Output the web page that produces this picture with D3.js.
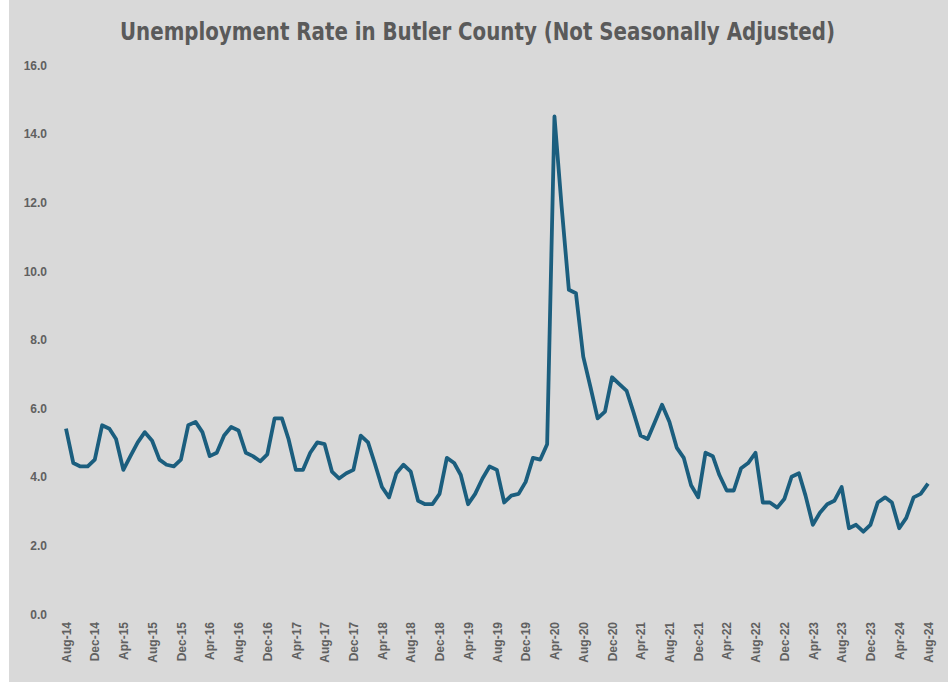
<!DOCTYPE html>
<html lang="en">
<head>
    <meta charset="UTF-8">
    <title>Unemployment Rate in Butler County</title>
    <script src="https://d3js.org/d3.v7.min.js"></script>
    <style>
        body {
            margin: 0;
            padding: 0;
            background: #ffffff;
        }
        .tick text {
            font-family: "Liberation Sans", Arial, sans-serif;
            font-size: 12px;
            font-weight: bold;
            fill: #606060;
        }
    </style>
</head>
<body>
    <svg width="952" height="682"></svg>

    <script>
        // monthly rate, Aug-14 .. Aug-24
        const startMonth = "Aug-14";
        const rates = [
            5.4, 4.4, 4.3, 4.3, 4.5, 5.5, 5.4, 5.1, 4.2, 4.6, 5.0, 5.3,
            5.05, 4.5, 4.35, 4.3, 4.5, 5.5, 5.6, 5.3, 4.6, 4.7, 5.2, 5.45,
            5.35, 4.7, 4.6, 4.45, 4.65, 5.7, 5.7, 5.1, 4.2, 4.2, 4.7, 5.0,
            4.95, 4.15, 3.95, 4.1, 4.2, 5.2, 5.0, 4.4, 3.7, 3.4, 4.1, 4.35,
            4.15, 3.3, 3.2, 3.2, 3.5, 4.55, 4.4, 4.05, 3.2, 3.5, 3.95, 4.3,
            4.2, 3.25, 3.45, 3.5, 3.85, 4.55, 4.5, 4.95, 14.5, 11.9, 9.45, 9.35,
            7.5, 6.6, 5.7, 5.9, 6.9, 6.7, 6.5, 5.9, 5.2, 5.1, 5.6, 6.1,
            5.6, 4.85, 4.55, 3.75, 3.4, 4.7, 4.6, 4.05, 3.6, 3.6, 4.25, 4.4,
            4.7, 3.25, 3.25, 3.1, 3.35, 4.0, 4.1, 3.45, 2.6, 2.95, 3.2, 3.3,
            3.7, 2.5, 2.6, 2.4, 2.6, 3.25, 3.4, 3.25, 2.5, 2.8, 3.4, 3.5,
            3.8
        ];
        const xTickLabels = [
            "Aug-14", "Dec-14", "Apr-15", "Aug-15", "Dec-15", "Apr-16", "Aug-16", "Dec-16",
            "Apr-17", "Aug-17", "Dec-17", "Apr-18", "Aug-18", "Dec-18", "Apr-19", "Aug-19",
            "Dec-19", "Apr-20", "Aug-20", "Dec-20", "Apr-21", "Aug-21", "Dec-21", "Apr-22",
            "Aug-22", "Dec-22", "Apr-23", "Aug-23", "Dec-23", "Apr-24", "Aug-24"
        ];
        const yTicks = [0, 2, 4, 6, 8, 10, 12, 14, 16];
        const title = "Unemployment Rate in Butler County (Not Seasonally Adjusted)";

        const parseMonth = d3.utcParse("%b-%y");
        const start = parseMonth(startMonth);
        const data = rates.map((v, i) => ({ date: d3.utcMonth.offset(start, i), value: v }));

        const svg = d3.select("svg");

        svg.append("rect")
            .attr("x", 9)
            .attr("y", 0)
            .attr("width", 939)
            .attr("height", 682)
            .attr("fill", "#d9d9d9");

        const xScale = d3.scaleUtc()
            .domain([start, data[data.length - 1].date])
            .range([66, 928]);

        const yScale = d3.scaleLinear()
            .domain([0, 16])
            .range([614, 65]);

        // condensed-looking title: tall glyphs squeezed to the source width
        svg.append("text")
            .attr("x", 120)
            .attr("y", 40)
            .attr("font-family", "'DejaVu Sans Condensed', 'Liberation Sans', Arial, sans-serif")
            .attr("font-weight", "bold")
            .attr("font-size", 25)
            .attr("fill", "#5a5a5a")
            .attr("textLength", 715)
            .attr("lengthAdjust", "spacingAndGlyphs")
            .text(title);

        // y axis: labels only
        const yAxis = svg.append("g")
            .attr("transform", "translate(47,0)")
            .call(d3.axisLeft(yScale)
                .tickValues(yTicks)
                .tickFormat(d3.format(".1f"))
                .tickSize(0)
                .tickPadding(0));
        yAxis.select(".domain").remove();
        yAxis.selectAll(".tick text").attr("dy", "0.35em");

        // x axis: rotated month labels
        const xAxis = svg.append("g")
            .attr("transform", "translate(0,620)")
            .call(d3.axisBottom(xScale)
                .tickValues(xTickLabels.map(parseMonth))
                .tickFormat(d3.utcFormat("%b-%y"))
                .tickSize(0));
        xAxis.select(".domain").remove();
        xAxis.selectAll(".tick text")
            .attr("transform", "rotate(-90)")
            .attr("text-anchor", "end")
            .attr("x", -2)
            .attr("y", 0)
            .attr("dy", "0.35em");

        const line = d3.line()
            .x(d => xScale(d.date))
            .y(d => yScale(d.value));

        svg.append("path")
            .datum(data)
            .attr("fill", "none")
            .attr("stroke", "#1b5e7e")
            .attr("stroke-width", 3.8)
            .attr("stroke-linejoin", "round")
            .attr("d", line);
    </script>
</body>
</html>
